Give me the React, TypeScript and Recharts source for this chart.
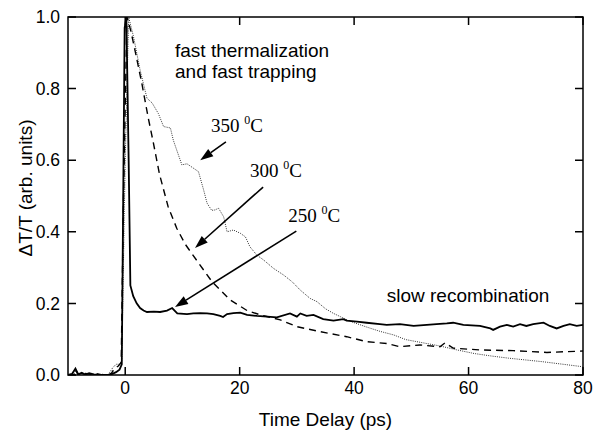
import { LineChart, Line, XAxis, YAxis, ReferenceLine, ReferenceDot, ReferenceArea, Label } from 'recharts'

// time axis (ps) and normalised signal for each anneal temperature
const t250 = [-10, -9.3, -8.7, -8.2, -7.6, -7, -6.3, -5.5, -4.5, -3.5, -2.5, -1.6, -1.0, -0.6, -0.1, 0.2, 0.6, 0.9, 1.4, 2.0, 2.6, 3.2, 3.8, 5.0, 6.1, 7.3, 8.2, 9.1, 10.8, 11.9, 13.1, 14.3, 15.4, 16.6, 17.1, 17.8, 18.9, 20.1, 21.3, 23.0, 24.8, 26.5, 28.8, 30.0, 30.6, 31.7, 32.9, 34.6, 36.4, 38.1, 38.7, 40.5, 42.2, 44.5, 45.7, 48.0, 50.4, 52.7, 54.4, 56.2, 57.3, 59.1, 62.0, 63.8, 64.3, 65.5, 66.7, 67.8, 69.0, 70.1, 71.3, 73.1, 74.2, 75.4, 76.6, 77.7, 78.9, 80]
const v250 = [0, 0.003, 0.018, 0.002, 0.006, 0.001, 0.005, 0.002, 0, 0, 0.001, 0.008, 0.015, 0.03, 0.97, 1.0, 0.6, 0.25, 0.22, 0.2, 0.187, 0.18, 0.176, 0.177, 0.176, 0.18, 0.187, 0.172, 0.17, 0.172, 0.173, 0.172, 0.17, 0.165, 0.162, 0.17, 0.173, 0.174, 0.168, 0.165, 0.163, 0.161, 0.172, 0.163, 0.172, 0.165, 0.168, 0.156, 0.152, 0.156, 0.152, 0.149, 0.146, 0.142, 0.14, 0.142, 0.137, 0.14, 0.142, 0.144, 0.146, 0.14, 0.137, 0.13, 0.126, 0.135, 0.14, 0.135, 0.142, 0.137, 0.142, 0.146, 0.137, 0.13, 0.137, 0.142, 0.137, 0.14]

const t300 = [-10, -9, -8.7, -8.2, -7, -6, -5, -4, -3, -2.4, -1.8, -1.2, -0.7, -0.3, 0.3, 1.0, 1.8, 2.9, 4.0, 4.9, 6.0, 7.5, 9.0, 10.5, 12.5, 15.2, 18.3, 21.3, 23.6, 27.1, 30, 34.1, 38.7, 42.2, 45.7, 48, 51.5, 55, 55.9, 57.3, 62, 67.8, 73.7, 80]
const v300 = [0, 0, 0.015, 0, 0.004, 0.002, 0.004, 0, 0, 0.005, 0.02, 0.025, 0.035, 0.5, 1.0, 0.96, 0.9, 0.815, 0.72, 0.65, 0.56, 0.47, 0.41, 0.365, 0.32, 0.26, 0.21, 0.18, 0.168, 0.154, 0.135, 0.121, 0.107, 0.093, 0.088, 0.079, 0.084, 0.079, 0.09, 0.075, 0.07, 0.068, 0.063, 0.067]

const t350 = [-10, -9, -8.7, -8.2, -7, -6, -5, -4, -3, -2.2, -1.6, -1.0, -0.6, 0.0, 0.6, 1.45, 2.6, 3.8, 4.7, 5.8, 6.7, 7.9, 8.4, 9.9, 10.8, 12.8, 13.7, 14.3, 15.1, 15.7, 16.3, 17.2, 17.8, 18.9, 20.1, 21.0, 21.8, 23.0, 24.2, 25.9, 27.7, 29.2, 30.6, 32.3, 33.5, 35.0, 36.4, 37.6, 39.3, 42.0, 44.5, 46.9, 49, 52, 55, 58, 61, 64, 67, 70, 73, 76, 80]
const v350 = [0, 0, 0.012, 0, 0.003, 0.004, 0, 0.002, 0, 0.02, 0.03, 0.03, 0.04, 0.6, 1.0, 0.945, 0.852, 0.773, 0.76, 0.73, 0.694, 0.69, 0.656, 0.587, 0.59, 0.568, 0.517, 0.48, 0.46, 0.461, 0.466, 0.442, 0.40, 0.405, 0.396, 0.386, 0.358, 0.335, 0.321, 0.298, 0.279, 0.26, 0.237, 0.214, 0.205, 0.185, 0.172, 0.163, 0.15, 0.135, 0.122, 0.112, 0.099, 0.09, 0.081, 0.07, 0.06, 0.053, 0.047, 0.042, 0.037, 0.031, 0.023]

const xDomain = [-10, 80]
const yDomain = [0, 1]
const xTicks = [0, 20, 40, 60, 80]
const yTicks = [0, 0.2, 0.4, 0.6, 0.8, 1.0]

// temperature labels: text anchor point and arrow tail -> tip, in data units
const tempLabels = [
  { text: '350', x: 15.0, y: 0.679, from: [17.6, 0.651], to: [13.1, 0.6] },
  { text: '300', x: 21.8, y: 0.553, from: [24.1, 0.525], to: [12.2, 0.355] },
  { text: '250', x: 28.5, y: 0.427, from: [29.9, 0.402], to: [8.7, 0.19] },
]

const toPoints = (t: number[], v: number[]) => t.map((x, i) => ({ x, y: v[i] }))

const sans = '"Liberation Sans", Arial, sans-serif'
const serif = '"Liberation Serif", "Times New Roman", serif'
const TICK = 8

const Arrow = (props: any) => {
  const { x1, y1, x2, y2 } = props
  const dx = x2 - x1
  const dy = y2 - y1
  const len = Math.sqrt(dx * dx + dy * dy)
  const ux = dx / len
  const uy = dy / len
  const hl = 13
  const hw = 4.5
  const bx = x2 - ux * hl
  const by = y2 - uy * hl
  const pts = `${x2},${y2} ${bx - uy * hw},${by + ux * hw} ${bx + uy * hw},${by - ux * hw}`
  return (
    <g>
      <path d={`M${x1},${y1}L${bx},${by}`} stroke="#000" strokeWidth={1.6} fill="none" />
      <polygon points={pts} fill="#000" />
    </g>
  )
}

// corner-to-corner segment of the plot; its shape draws every inward tick of the frame
// in one path (linear scale, so positions interpolate between the two corners)
const FrameTicks = (props: any) => {
  const { x1, y1, x2, y2 } = props
  const px = (t: number) => x1 + ((t - xDomain[0]) / (xDomain[1] - xDomain[0])) * (x2 - x1)
  const py = (v: number) => y1 + ((v - yDomain[0]) / (yDomain[1] - yDomain[0])) * (y2 - y1)
  let d = ''
  xTicks.forEach((t) => {
    const x = px(t)
    d += `M${x},${y1}L${x},${y1 - TICK}M${x},${y2}L${x},${y2 + TICK}`
  })
  yTicks.forEach((v) => {
    const y = py(v)
    d += `M${x1},${y}L${x1 + TICK},${y}M${x2},${y}L${x2 - TICK},${y}`
  })
  return <path d={d} stroke="#000" strokeWidth={1.5} fill="none" />
}

const textShape = (lines: string[], size: number) => (props: any) => (
  <text x={props.cx} y={props.cy} fontFamily={sans} fontSize={size} fill="#000">
    {lines.map((l, i) => (
      <tspan key={i} x={props.cx} dy={i === 0 ? 0 : 21}>{l}</tspan>
    ))}
  </text>
)

const tempShape = (txt: string) => (props: any) => (
  <text x={props.cx} y={props.cy} fontFamily={serif} fontSize={19} fill="#000">
    {txt + ' '}
    <tspan dy={-8} fontSize={12}>0</tspan>
    <tspan dy={8}>C</tspan>
  </text>
)

export default function App() {
  return (
    <div style={{ position: 'absolute', left: 0, top: 0, background: '#fff' }}>
      <LineChart width={595} height={437} margin={{ top: 17, right: 12, bottom: 12, left: 8 }}>
        <XAxis
          dataKey="x"
          type="number"
          domain={xDomain}
          ticks={xTicks}
          allowDataOverflow
          height={50}
          axisLine={false}
          tickLine={false}
          tickSize={-6}
          tickMargin={13}
          tick={{ fill: '#000', fontSize: 17.5, fontFamily: sans }}
        >
          <Label
            content={(p: any) => (
              <text
                x={p.viewBox.x + p.viewBox.width / 2}
                y={p.viewBox.y + 51}
                textAnchor="middle"
                fontFamily={sans}
                fontSize={19}
                fill="#000"
              >
                Time Delay (ps)
              </text>
            )}
          />
        </XAxis>
        <YAxis
          type="number"
          domain={yDomain}
          ticks={yTicks}
          allowDataOverflow
          width={60}
          axisLine={false}
          tickLine={false}
          tickSize={-6}
          tickMargin={14}
          tickFormatter={(v: number) => v.toFixed(1)}
          tick={{ fill: '#000', fontSize: 17.5, fontFamily: sans }}
        >
          <Label
            content={(p: any) => {
              const cx = p.viewBox.x + 17
              const cy = p.viewBox.y + p.viewBox.height / 2 - 8
              return (
                <text
                  x={cx}
                  y={cy}
                  transform={`rotate(-90, ${cx}, ${cy})`}
                  textAnchor="middle"
                  dominantBaseline="central"
                  fontFamily={sans}
                  fontSize={19}
                  fill="#000"
                >
                  ΔT/T (arb. units)
                </text>
              )
            }}
          />
        </YAxis>

        <Line
          data={toPoints(t350, v350)}
          dataKey="y"
          type="linear"
          stroke="#333"
          strokeWidth={1}
          strokeDasharray="1 1.2"
          dot={false}
          isAnimationActive={false}
        />
        <Line
          data={toPoints(t300, v300)}
          dataKey="y"
          type="linear"
          stroke="#000"
          strokeWidth={1.4}
          strokeDasharray="7 5"
          dot={false}
          isAnimationActive={false}
        />
        <Line
          data={toPoints(t250, v250)}
          dataKey="y"
          type="linear"
          stroke="#000"
          strokeWidth={1.8}
          dot={false}
          isAnimationActive={false}
        />

        {/* plot frame with inward ticks on all four sides */}
        <ReferenceArea
          x1={xDomain[0]}
          x2={xDomain[1]}
          y1={yDomain[0]}
          y2={yDomain[1]}
          fill="none"
          fillOpacity={0}
          stroke="#000"
          strokeWidth={1.5}
          ifOverflow="visible"
        />
        <ReferenceLine
          segment={[{ x: xDomain[0], y: yDomain[0] }, { x: xDomain[1], y: yDomain[1] }]}
          shape={FrameTicks}
        />

        {tempLabels.map((a) => (
          <ReferenceLine
            key={'arrow' + a.text}
            segment={[{ x: a.from[0], y: a.from[1] }, { x: a.to[0], y: a.to[1] }]}
            shape={Arrow}
          />
        ))}
        {tempLabels.map((a) => (
          <ReferenceDot key={'lbl' + a.text} x={a.x} y={a.y} r={0} shape={tempShape(a.text)} />
        ))}
        <ReferenceDot x={8.7} y={0.888} r={0} shape={textShape(['fast thermalization', 'and fast trapping'], 19)} />
        <ReferenceDot x={45.7} y={0.205} r={0} shape={textShape(['slow recombination'], 19)} />
      </LineChart>
    </div>
  )
}
